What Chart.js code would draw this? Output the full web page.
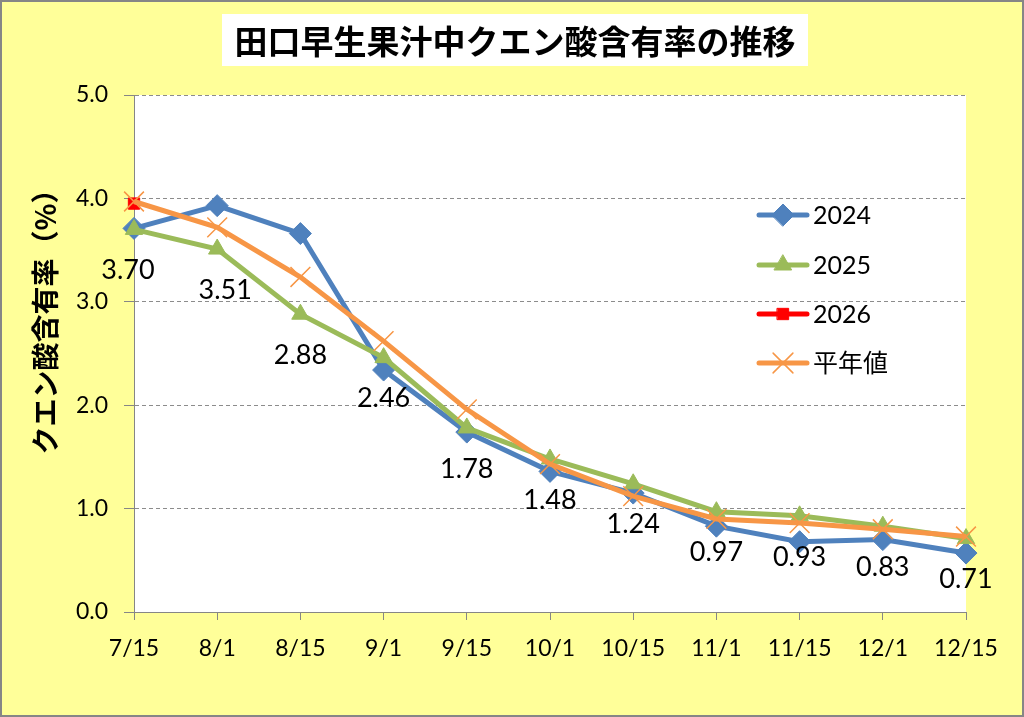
<!DOCTYPE html>
<html>
<head>
<meta charset="utf-8">
<script src="https://cdn.jsdelivr.net/npm/chart.js@4/dist/chart.umd.min.js"></script>
<style>
  html, body { margin: 0; padding: 0; background: #ffff99; }
  #wrap { width: 1024px; height: 717px; }
</style>
</head>
<body>
<div id="wrap"><canvas id="citricChart" width="1024" height="717"></canvas></div>
<script>
const categories = ['7/15', '8/1', '8/15', '9/1', '9/15', '10/1', '10/15', '11/1', '11/15', '12/1', '12/15'];
const values2024 = [3.71, 3.93, 3.66, 2.34, 1.74, 1.36, 1.15, 0.83, 0.68, 0.70, 0.57];
const values2025 = [3.70, 3.51, 2.88, 2.46, 1.78, 1.48, 1.24, 0.97, 0.93, 0.83, 0.71];
const values2026 = [3.95, null, null, null, null, null, null, null, null, null, null];
const normalValues = [3.97, 3.72, 3.24, 2.62, 1.96, 1.43, 1.12, 0.90, 0.86, 0.80, 0.73];
const yTicks = [0, 1, 2, 3, 4, 5];

const titleText = '田口早生果汁中クエン酸含有率の推移';
const yTitle = 'クエン酸含有率（%）';
const latin = 'Lato, "Noto Sans CJK JP", sans-serif';
const cjk = '"Noto Sans CJK JP", sans-serif';

// background, border, white plot area, title box, axis title
const framePlugin = {
    id: 'frame',
    beforeDraw(chart) {
        const { ctx, chartArea: a } = chart;
        ctx.save();
        ctx.fillStyle = '#ffff99';
        ctx.fillRect(0, 0, chart.width, chart.height);
        ctx.fillStyle = '#ffffff';
        ctx.fillRect(a.left, a.top, a.right - a.left, a.bottom - a.top);
        ctx.strokeStyle = '#868686';
        ctx.lineWidth = 2;
        ctx.strokeRect(1, 1, chart.width - 2, chart.height - 2);

        ctx.fillStyle = '#ffffff';
        ctx.fillRect(222, 14, 586, 52);
        ctx.fillStyle = '#000000';
        ctx.font = 'bold 33px ' + cjk;
        ctx.textAlign = 'center';
        ctx.textBaseline = 'middle';
        ctx.fillText(titleText, 515, 41);

        ctx.translate(45, 315);
        ctx.rotate(-Math.PI / 2);
        ctx.font = 'bold 28px ' + cjk;
        ctx.fillText(yTitle, 0, 0);
        ctx.restore();
    }
};

// value labels under the 2025 points
const labelPlugin = {
    id: 'valueLabels',
    afterDatasetsDraw(chart) {
        const { ctx } = chart;
        const meta = chart.getDatasetMeta(1);
        ctx.save();
        ctx.fillStyle = '#000000';
        ctx.font = '27px ' + latin;
        ctx.textAlign = 'center';
        ctx.textBaseline = 'middle';
        meta.data.forEach((pt, i) => {
            let x = pt.x;
            if (i === 0) x -= 6;
            if (i === 1) x += 8;
            ctx.fillText(values2025[i].toFixed(2), x, pt.y + 41);
        });
        ctx.restore();
    }
};

// legend placed inside the plot like the original
const legendPlugin = {
    id: 'sideLegend',
    afterDraw(chart) {
        const { ctx } = chart;
        const rows = [215, 265, 314, 363];
        ctx.save();
        chart.data.datasets.forEach((ds, i) => {
            const y = rows[i];
            ctx.strokeStyle = ds.borderColor;
            ctx.lineWidth = 5;
            ctx.lineCap = 'round';
            ctx.beginPath();
            ctx.moveTo(759, y);
            ctx.lineTo(807, y);
            ctx.stroke();
            ctx.fillStyle = ds.pointBackgroundColor;
            ctx.strokeStyle = ds.pointBorderColor;
            ctx.lineWidth = ds.pointBorderWidth;
            Chart.helpers.drawPoint(ctx, {
                pointStyle: ds.pointStyle,
                radius: ds.pointRadius,
                rotation: 0,
                borderWidth: ds.pointBorderWidth
            }, 783, y);
            ctx.fillStyle = '#000000';
            ctx.font = '25px ' + latin;
            ctx.textAlign = 'left';
            ctx.textBaseline = 'middle';
            ctx.fillText(ds.label, 813, y + 1);
        });
        ctx.restore();
    }
};

const ctx = document.getElementById('citricChart').getContext('2d');
new Chart(ctx, {
    type: 'line',
    data: {
        labels: categories,
        datasets: [
            {
                label: '2024', data: values2024, order: 4,
                borderColor: '#4f81bd', borderWidth: 5,
                pointStyle: 'rectRot', pointRadius: 11,
                pointBackgroundColor: '#4f81bd', pointBorderColor: '#4f81bd', pointBorderWidth: 1
            },
            {
                label: '2025', data: values2025, order: 3,
                borderColor: '#9bbb59', borderWidth: 5,
                pointStyle: 'triangle', pointRadius: 10,
                pointBackgroundColor: '#9bbb59', pointBorderColor: '#9bbb59', pointBorderWidth: 1
            },
            {
                label: '2026', data: values2026, order: 2,
                borderColor: '#ff0000', borderWidth: 5,
                pointStyle: 'rect', pointRadius: 8,
                pointBackgroundColor: '#ff0000', pointBorderColor: '#ff0000', pointBorderWidth: 1
            },
            {
                label: '平年値', data: normalValues, order: 1,
                borderColor: '#f79646', borderWidth: 5,
                pointStyle: 'crossRot', pointRadius: 14,
                pointBackgroundColor: '#f79646', pointBorderColor: '#f79646', pointBorderWidth: 1.5
            }
        ]
    },
    options: {
        responsive: false,
        animation: false,
        layout: { padding: { top: 95, right: 58, bottom: 0, left: 0 } },
        elements: { line: { tension: 0 } },
        plugins: {
            legend: { display: false },
            title: { display: false },
            tooltip: { enabled: false }
        },
        scales: {
            x: {
                offset: false,
                grid: { display: true, drawOnChartArea: false, drawTicks: true, tickLength: 8, color: '#868686' },
                border: { display: true, color: '#868686', width: 1 },
                ticks: { color: '#000000', font: { family: latin, size: 23 }, padding: 15, maxRotation: 0, autoSkip: false },
                afterFit(scale) { scale.height = 105; }
            },
            y: {
                min: 0, max: 5,
                afterBuildTicks(scale) { scale.ticks = yTicks.map(v => ({ value: v })); },
                grid: { color: '#8c8c8c', lineWidth: 1, tickLength: 10, tickColor: '#868686', tickBorderDash: [] },
                border: { display: true, color: '#868686', width: 1, dash: [4, 3] },
                ticks: {
                    color: '#000000', font: { family: latin, size: 23 }, padding: 16,
                    callback: v => Number(v).toFixed(1)
                },
                afterFit(scale) { scale.width = 134; }
            }
        }
    },
    plugins: [framePlugin, labelPlugin, legendPlugin]
});
</script>
</body>
</html>
